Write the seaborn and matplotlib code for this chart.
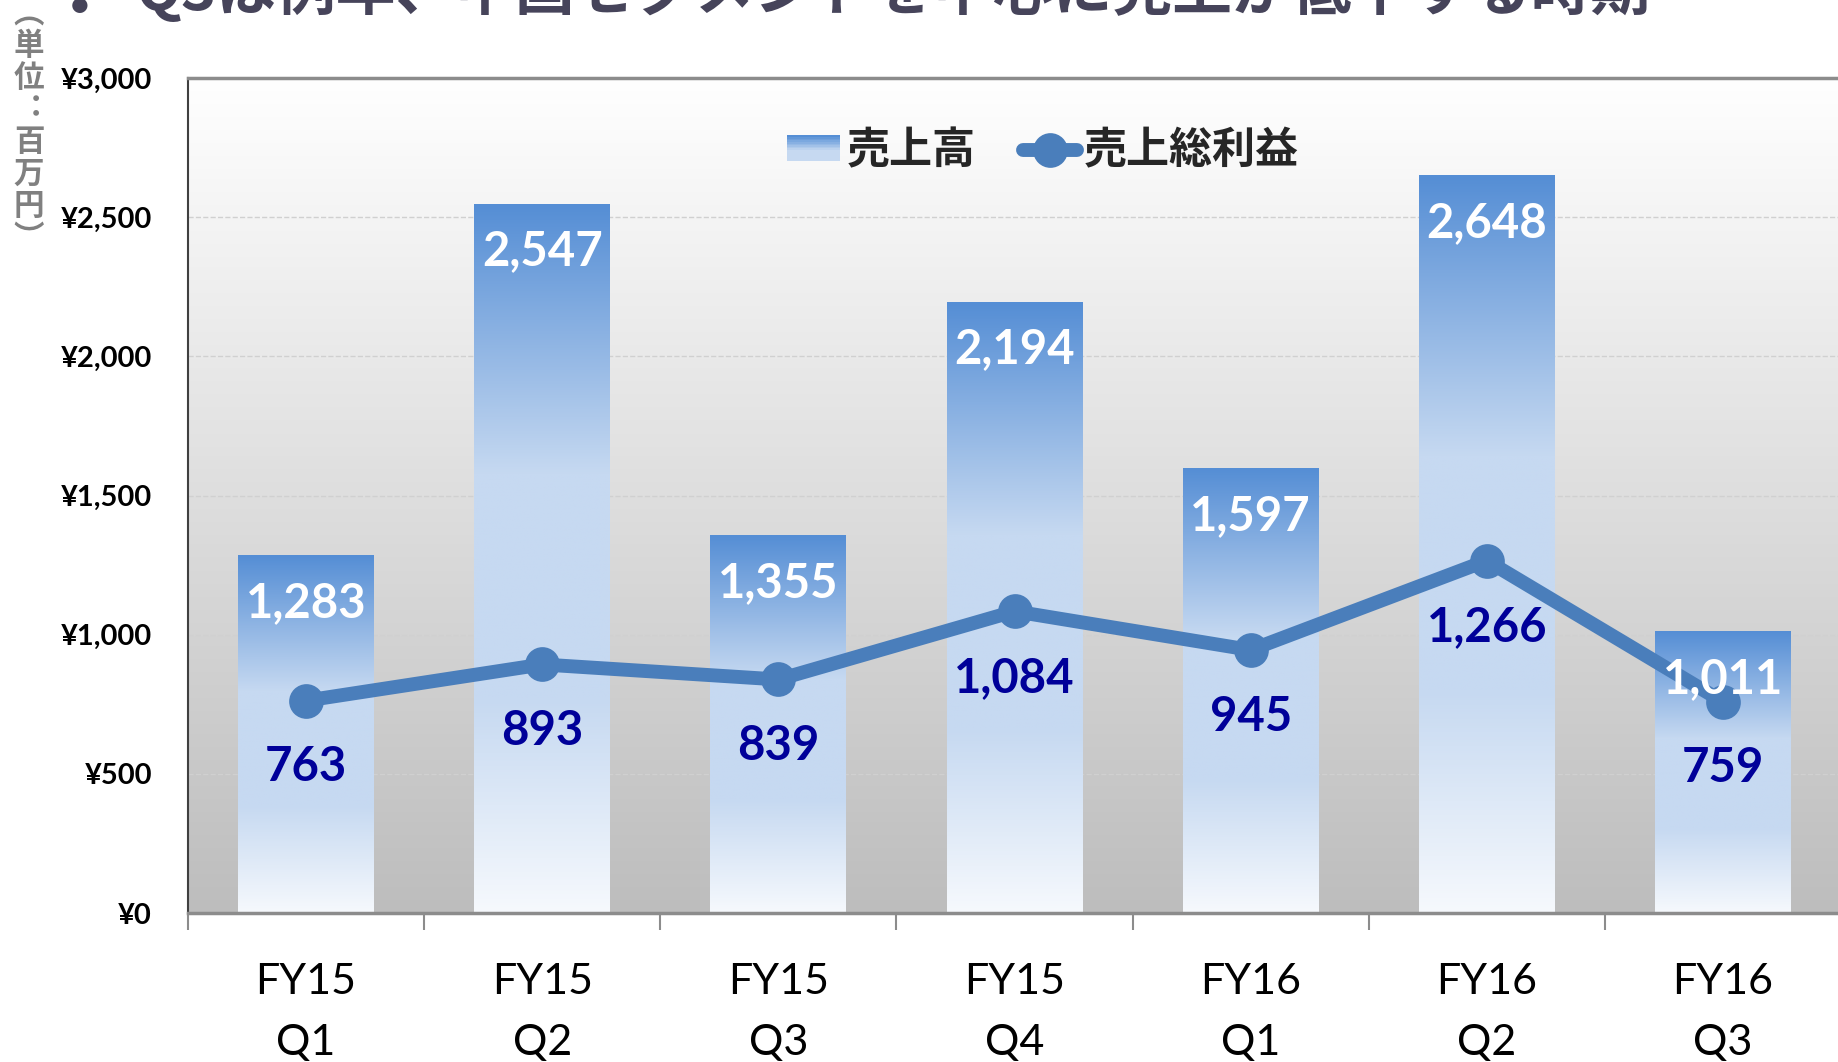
import numpy as np
import pandas as pd
import matplotlib
matplotlib.use("Agg")
import matplotlib.pyplot as plt
import seaborn as sns
from matplotlib.colors import LinearSegmentedColormap
from matplotlib.legend_handler import HandlerBase
from matplotlib.patches import Rectangle, Patch
from matplotlib.lines import Line2D

# chart data
quarters = ["FY15\nQ1", "FY15\nQ2", "FY15\nQ3", "FY15\nQ4", "FY16\nQ1", "FY16\nQ2", "FY16\nQ3"]
sales = [1283, 2547, 1355, 2194, 1597, 2648, 1011]
gross_profit = [763, 893, 839, 1084, 945, 1266, 759]
y_ticks = [0, 500, 1000, 1500, 2000, 2500, 3000]
legend_labels = ["売上高", "売上総利益"]
title = "Q3は例年、中国セグメントを中心に売上が低下する時期"
unit_chars = ["︵", "単", "位", "︓", "百", "万", "円", "︶"]

df = pd.DataFrame({"quarter": quarters, "sales": sales, "gross_profit": gross_profit})

sns.set_theme(style="white")
plt.rcParams["font.family"] = ["Lato", "Noto Sans CJK JP", "DejaVu Sans"]
CJK = ["Noto Sans CJK JP", "DejaVu Sans"]

line_color = "#4A7EBB"
bar_cmap = LinearSegmentedColormap.from_list(
    "bar", [(0.0, "#F6F9FD"), (0.3, "#C6D9F1"), (0.62, "#C6D9F1"), (1.0, "#558ED5")])
bg_cmap = LinearSegmentedColormap.from_list("bg", ["#BDBDBD", "#FFFFFF"])

fig = plt.figure(figsize=(18.38, 10.62), dpi=100)
ax = fig.add_axes([188 / 1838, 149 / 1062, 1653 / 1838, 835 / 1062])

# background gradient
grad = np.linspace(0, 1, 256).reshape(-1, 1)
ax.imshow(grad, extent=[0, 1, 0, 1], transform=ax.transAxes, cmap=bg_cmap,
          origin="lower", aspect="auto", zorder=0.1)

# bars
sns.barplot(data=df, x="quarter", y="sales", width=0.575, ax=ax, zorder=2)
for p in ax.patches:
    x0, w, h = p.get_x(), p.get_width(), p.get_height()
    ax.imshow(grad, extent=[x0, x0 + w, 0, h], cmap=bar_cmap, origin="lower",
              aspect="auto", zorder=2)
    p.set_visible(False)

# gross profit line
sns.lineplot(data=df, x="quarter", y="gross_profit", ax=ax, color=line_color,
             linewidth=10, marker="o", markersize=25, markeredgewidth=0,
             sort=False, zorder=3)

for i, v in enumerate(sales):
    ax.annotate(f"{v:,}", (i, v), xytext=(0, -34), textcoords="offset points",
                ha="center", va="center", color="white", fontsize=34,
                fontweight="bold", zorder=5)
for i, v in enumerate(gross_profit):
    ax.annotate(f"{v:,}", (i, v), xytext=(0, -48), textcoords="offset points",
                ha="center", va="center", color="#000099", fontsize=34,
                fontweight="bold", zorder=5)

ax.set_xlim(-0.5, len(quarters) - 0.5)
ax.set_ylim(0, 3000)
ax.set_yticks(y_ticks)
ax.set_yticklabels([f"¥{v:,}" for v in y_ticks], fontsize=21, fontweight="bold", color="black")
ax.yaxis.grid(True, linestyle="--", color="#D0D0D0", linewidth=1)
ax.set_axisbelow(True)
ax.tick_params(axis="y", length=0, pad=26)

ax.set_xticks(range(len(quarters)))
ax.set_xticklabels(quarters, fontsize=31, color="black", linespacing=1.75)
ax.set_xticks(np.arange(-0.5, len(quarters), 1), minor=True)
ax.tick_params(axis="x", which="major", length=0, pad=36)
ax.tick_params(axis="x", which="minor", length=12, width=1.5, color="#8C8C8C", bottom=True)
ax.set_xlabel("")
ax.set_ylabel("")

for s in ["top", "bottom"]:
    ax.spines[s].set_color("#8C8C8C")
    ax.spines[s].set_linewidth(2.5)
ax.spines["left"].set_color("#404040")
ax.spines["left"].set_linewidth(1.5)
ax.spines["right"].set_visible(False)


class GradientHandler(HandlerBase):
    def create_artists(self, legend, orig_handle, xdescent, ydescent, width, height, fontsize, trans):
        n = 16
        cols = bar_cmap(np.linspace(0.35, 1, n))
        arts = []
        for k, c in enumerate(cols):
            y0 = -ydescent + height * k / n
            arts.append(Rectangle((-xdescent, y0), width, height / n + 0.3, facecolor=c,
                                  edgecolor="none", transform=trans))
        return arts


h_bar = Patch(facecolor="#558ED5")
h_line = Line2D([], [], color=line_color, linewidth=10, marker="o", markersize=25,
                markeredgewidth=0, solid_capstyle="round")
leg = ax.legend([h_bar, h_line], legend_labels, handler_map={Patch: GradientHandler()},
                loc="center", bbox_to_anchor=(0.517, 0.913), ncol=2, frameon=False,
                handlelength=1.25, handleheight=0.55, handletextpad=0.15, columnspacing=1.1,
                prop={"family": CJK, "size": 31, "weight": "bold"})

# clipped title at top
fig.text(80 / 1838, 1 - 28 / 1062, "・", family=CJK, fontsize=43, fontweight="bold",
         color="#46445A", ha="center", va="baseline")
fig.text(136 / 1838, 1 - 10 / 1062, title, family=CJK, fontsize=43, fontweight="bold",
         color="#46445A", ha="left", va="baseline")

# vertical unit label
for k, ch in enumerate(unit_chars):
    fig.text(29 / 1838, 1 - (14 + 32 * k) / 1062, ch, family=CJK, fontsize=22,
             fontweight="bold", color="#808080", ha="center", va="center")

fig.savefig("out.png", dpi=100)
